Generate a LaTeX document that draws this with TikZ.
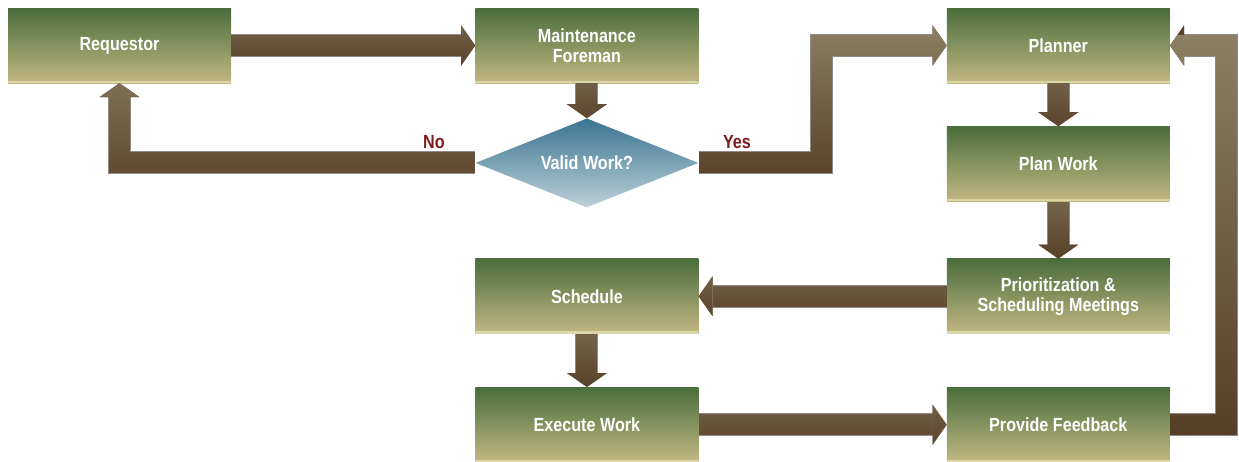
\documentclass[tikz,border=0pt]{standalone}
\usepackage{fontspec}
\newfontfamily\chartfont[FakeStretch=0.85]{Liberation Sans}
\usetikzlibrary{positioning,arrows.meta,shapes.geometric,fadings,calc}

\definecolor{boxtop}{HTML}{4A6D3C}
\definecolor{boxbot}{HTML}{C2B882}
\definecolor{boxrim}{HTML}{DCD7A8}
\definecolor{dectop}{HTML}{3A7590}
\definecolor{decbot}{HTML}{BDD0D9}
\definecolor{shaftdark}{HTML}{573F27}
\definecolor{shaftlight}{HTML}{8C8064}
\definecolor{shaftrim}{HTML}{8F8A84}
\definecolor{answerred}{HTML}{7D1C1C}

% lighter top of the fat arrows: short, bent and long loop
\begin{tikzfadingfrompicture}[name=shaftfade]
  \shade[top color=transparent!40, bottom color=transparent!100]
    (-450pt,-30pt) rectangle (450pt,30pt);
\end{tikzfadingfrompicture}
\begin{tikzfadingfrompicture}[name=bendfade]
  \shade[top color=transparent!0, bottom color=transparent!100]
    (-450pt,-80pt) rectangle (450pt,80pt);
\end{tikzfadingfrompicture}
\begin{tikzfadingfrompicture}[name=loopfade]
  \shade[top color=transparent!0, bottom color=transparent!100]
    (-450pt,-200pt) rectangle (450pt,200pt);
\end{tikzfadingfrompicture}

\begin{document}
\begin{tikzpicture}[x=1pt, y=-1pt,
  stage/.style={minimum width=223pt, minimum height=75pt, inner sep=2pt,
                top color=boxtop, bottom color=boxbot,
                font=\chartfont\bfseries\fontsize{19}{20}\selectfont,
                text=white, align=center,
                path picture={\fill[boxrim] (path picture bounding box.south west)
                  rectangle ([yshift=2.5pt]path picture bounding box.south east);}},
  decision/.style={diamond, aspect=2.5, minimum width=223pt, minimum height=89pt,
                   inner sep=0pt, top color=dectop, bottom color=decbot,
                   font=\chartfont\bfseries\fontsize{19}{20}\selectfont, text=white},
  answer/.style={inner sep=0pt, text=answerred,
                 font=\chartfont\bfseries\fontsize{19}{20}\selectfont},
  % #1: fading, #2, #3: the two ends, the fading sits midway between them
  fatflow/.style n args={3}{draw=shaftdark, line width=21pt,
    -{Triangle[width=40pt, length=14pt, line width=0pt]},
    preaction={draw=shaftrim, line width=23pt},
    postaction={draw=shaftlight, path fading=#1, fit fading=false,
                fading transform={shift={($(#2)!0.5!(#3)$)}}}},
  flow/.style 2 args={fatflow={shaftfade}{#1}{#2}},
  bendflow/.style 2 args={fatflow={bendfade}{#1}{#2}},
  loopflow/.style 2 args={fatflow={loopfade}{#1}{#2}},
  ]
  \path[use as bounding box, fill=white] (0,0) rectangle (1239,461);

  \node[stage] (req) at (119.5,45.5) {Requestor};
  \node[stage, right=244pt of req] (fore) {Maintenance\\Foreman};
  \node[decision, below=35pt of fore] (valid) {Valid Work?};
  \node[stage, right=248pt of fore] (planner) {Planner};
  \node[stage, below=43pt of planner] (pwork) {Plan Work};
  \node[stage, below=57pt of pwork] (prio) {Prioritization \&\\Scheduling Meetings};
  \node[stage, left=248pt of prio] (sched) {Schedule};
  \node[stage, below=53pt of sched] (exec) {Execute Work};
  \node[stage, right=248pt of exec] (feed) {Provide Feedback};

  \node[answer] (no) at (434,142) {No};
  \node[answer] (yes) at (737,142) {Yes};

  \draw[flow={req}{fore}] (req) -- (fore);
  \draw[flow={fore.south}{valid.north}] (fore) -- (valid);
  \draw[bendflow={valid.west}{req.south}] (valid) -| (req);
  \draw[bendflow={valid.east}{planner.west}] (valid.east) -- ++(123pt,0) |- (planner);
  \draw[flow={planner.south}{pwork.north}] (planner) -- (pwork);
  \draw[flow={pwork.south}{prio.north}] (pwork) -- (prio);
  \draw[flow={prio}{sched}] (prio) -- (sched);
  \draw[flow={sched.south}{exec.north}] (sched) -- (exec);
  \draw[flow={exec}{feed}] (exec) -- (feed);
  \draw[loopflow={feed.east}{planner.east}] (feed.east) -- ++(56pt,0) |- (planner);
\end{tikzpicture}
\end{document}
